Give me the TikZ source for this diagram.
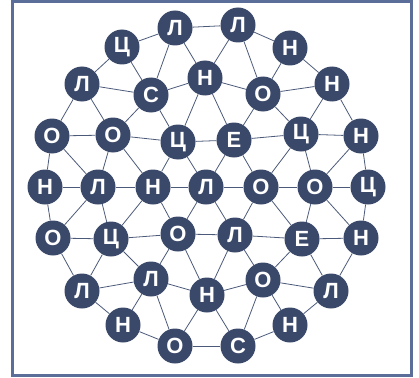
\documentclass[tikz,border=0pt]{standalone}
\usepackage{fontspec}
\setmainfont{Liberation Sans}
\usepackage{xcolor}
\usepackage{tikz}
\usetikzlibrary{backgrounds}
\definecolor{gnode}{HTML}{3A4869}
\definecolor{gedge}{HTML}{4C5A7A}
\definecolor{gframe}{HTML}{5B6E9A}

\begin{document}
\begin{tikzpicture}[x=1pt,y=-1pt]
  \tikzstyle{let}=[circle,fill=gnode,minimum size=35pt,inner sep=0pt,text=white,font=\fontsize{22}{22}\selectfont\bfseries]
  \tikzstyle{link}=[gedge,line width=0.8pt]
  \useasboundingbox (0,0) rectangle (419,377);
  \draw[gframe,line width=3pt] (12,1.5) rectangle (411.5,375.6);
  % outer ring, top
  \node[let] (l1) at (175,28) {Л};
  \node[let] (l2) at (238,25) {Л};
  \node[let] (c1) at (122,47) {Ц};
  \node[let] (h1) at (290,48) {Н};
  \node[let] (l3) at (82,84) {Л};
  \node[let] (s1) at (151,95) {С};
  \node[let] (h2) at (205,78) {Н};
  \node[let] (o1) at (263,94) {О};
  \node[let] (h3) at (332,84) {Н};
  \node[let] (o2) at (52,136) {О};
  \node[let] (o3) at (113,135) {О};
  \node[let] (c2) at (178,142) {Ц};
  \node[let] (e1) at (234,140) {Е};
  \node[let] (c3) at (301,134) {Ц};
  \node[let] (h4) at (361,136) {Н};
  % middle row
  \node[let] (h5) at (45,187) {Н};
  \node[let] (l4) at (98,187) {Л};
  \node[let] (h6) at (153,187) {Н};
  \node[let] (l5) at (206,187) {Л};
  \node[let] (o4) at (261,187) {О};
  \node[let] (o5) at (315,187) {О};
  \node[let] (c4) at (368,187) {Ц};
  % bottom half
  \node[let] (o6) at (53,238) {О};
  \node[let] (c5) at (111,239) {Ц};
  \node[let] (o7) at (178,234) {О};
  \node[let] (l6) at (235,235) {Л};
  \node[let] (e2) at (302,239) {Е};
  \node[let] (h7) at (361,238) {Н};
  \node[let] (l7) at (82,291) {Л};
  \node[let] (l8) at (151,279) {Л};
  \node[let] (h8) at (207,295) {Н};
  \node[let] (o8) at (263,280) {О};
  \node[let] (l9) at (331,291) {Л};
  \node[let] (h9) at (123,325) {Н};
  \node[let] (o9) at (175,346) {О};
  \node[let] (s2) at (238,346) {С};
  \node[let] (h10) at (290,325) {Н};
  \begin{scope}[on background layer]
  \draw[link] (l1)--(l2); \draw[link] (l1)--(c1); \draw[link] (l1)--(s1); \draw[link] (l1)--(h2);
  \draw[link] (l2)--(h1); \draw[link] (l2)--(h2); \draw[link] (l2)--(o1);
  \draw[link] (c1)--(l3); \draw[link] (c1)--(s1);
  \draw[link] (h1)--(o1); \draw[link] (h1)--(h3);
  \draw[link] (l3)--(s1); \draw[link] (l3)--(o2); \draw[link] (l3)--(o3);
  \draw[link] (s1)--(h2); \draw[link] (s1)--(o3); \draw[link] (s1)--(c2);
  \draw[link] (h2)--(o1); \draw[link] (h2)--(c2); \draw[link] (h2)--(e1);
  \draw[link] (o1)--(h3); \draw[link] (o1)--(e1); \draw[link] (o1)--(c3);
  \draw[link] (h3)--(c3); \draw[link] (h3)--(h4);
  \draw[link] (o2)--(o3); \draw[link] (o2)--(h5); \draw[link] (o2)--(l4);
  \draw[link] (o3)--(c2); \draw[link] (o3)--(l4); \draw[link] (o3)--(h6);
  \draw[link] (c2)--(e1); \draw[link] (c2)--(h6); \draw[link] (c2)--(l5);
  \draw[link] (e1)--(c3); \draw[link] (e1)--(l5); \draw[link] (e1)--(o4);
  \draw[link] (c3)--(h4); \draw[link] (c3)--(o4); \draw[link] (c3)--(o5);
  \draw[link] (h4)--(o5); \draw[link] (h4)--(c4);
  \draw[link] (h5)--(l4); \draw[link] (l4)--(h6); \draw[link] (h6)--(l5);
  \draw[link] (l5)--(o4); \draw[link] (o4)--(o5); \draw[link] (o5)--(c4);
  \draw[link] (h5)--(o6); \draw[link] (l4)--(o6); \draw[link] (l4)--(c5);
  \draw[link] (h6)--(c5); \draw[link] (h6)--(o7); \draw[link] (l5)--(o7); \draw[link] (l5)--(l6);
  \draw[link] (o4)--(l6); \draw[link] (o4)--(e2); \draw[link] (o5)--(e2); \draw[link] (o5)--(h7);
  \draw[link] (c4)--(h7);
  \draw[link] (o6)--(c5); \draw[link] (c5)--(o7); \draw[link] (o7)--(l6);
  \draw[link] (l6)--(e2); \draw[link] (e2)--(h7);
  \draw[link] (o6)--(l7); \draw[link] (c5)--(l7); \draw[link] (c5)--(l8);
  \draw[link] (o7)--(l8); \draw[link] (o7)--(h8); \draw[link] (l6)--(h8); \draw[link] (l6)--(o8);
  \draw[link] (e2)--(o8); \draw[link] (e2)--(l9); \draw[link] (h7)--(l9);
  \draw[link] (l7)--(l8); \draw[link] (l8)--(h8); \draw[link] (h8)--(o8); \draw[link] (o8)--(l9);
  \draw[link] (l7)--(h9); \draw[link] (l8)--(h9); \draw[link] (l8)--(o9); \draw[link] (h8)--(o9);
  \draw[link] (h8)--(s2); \draw[link] (o8)--(s2); \draw[link] (o8)--(h10); \draw[link] (l9)--(h10);
  \draw[link] (h9)--(o9); \draw[link] (o9)--(s2); \draw[link] (s2)--(h10);
  \end{scope}
\end{tikzpicture}
\end{document}
